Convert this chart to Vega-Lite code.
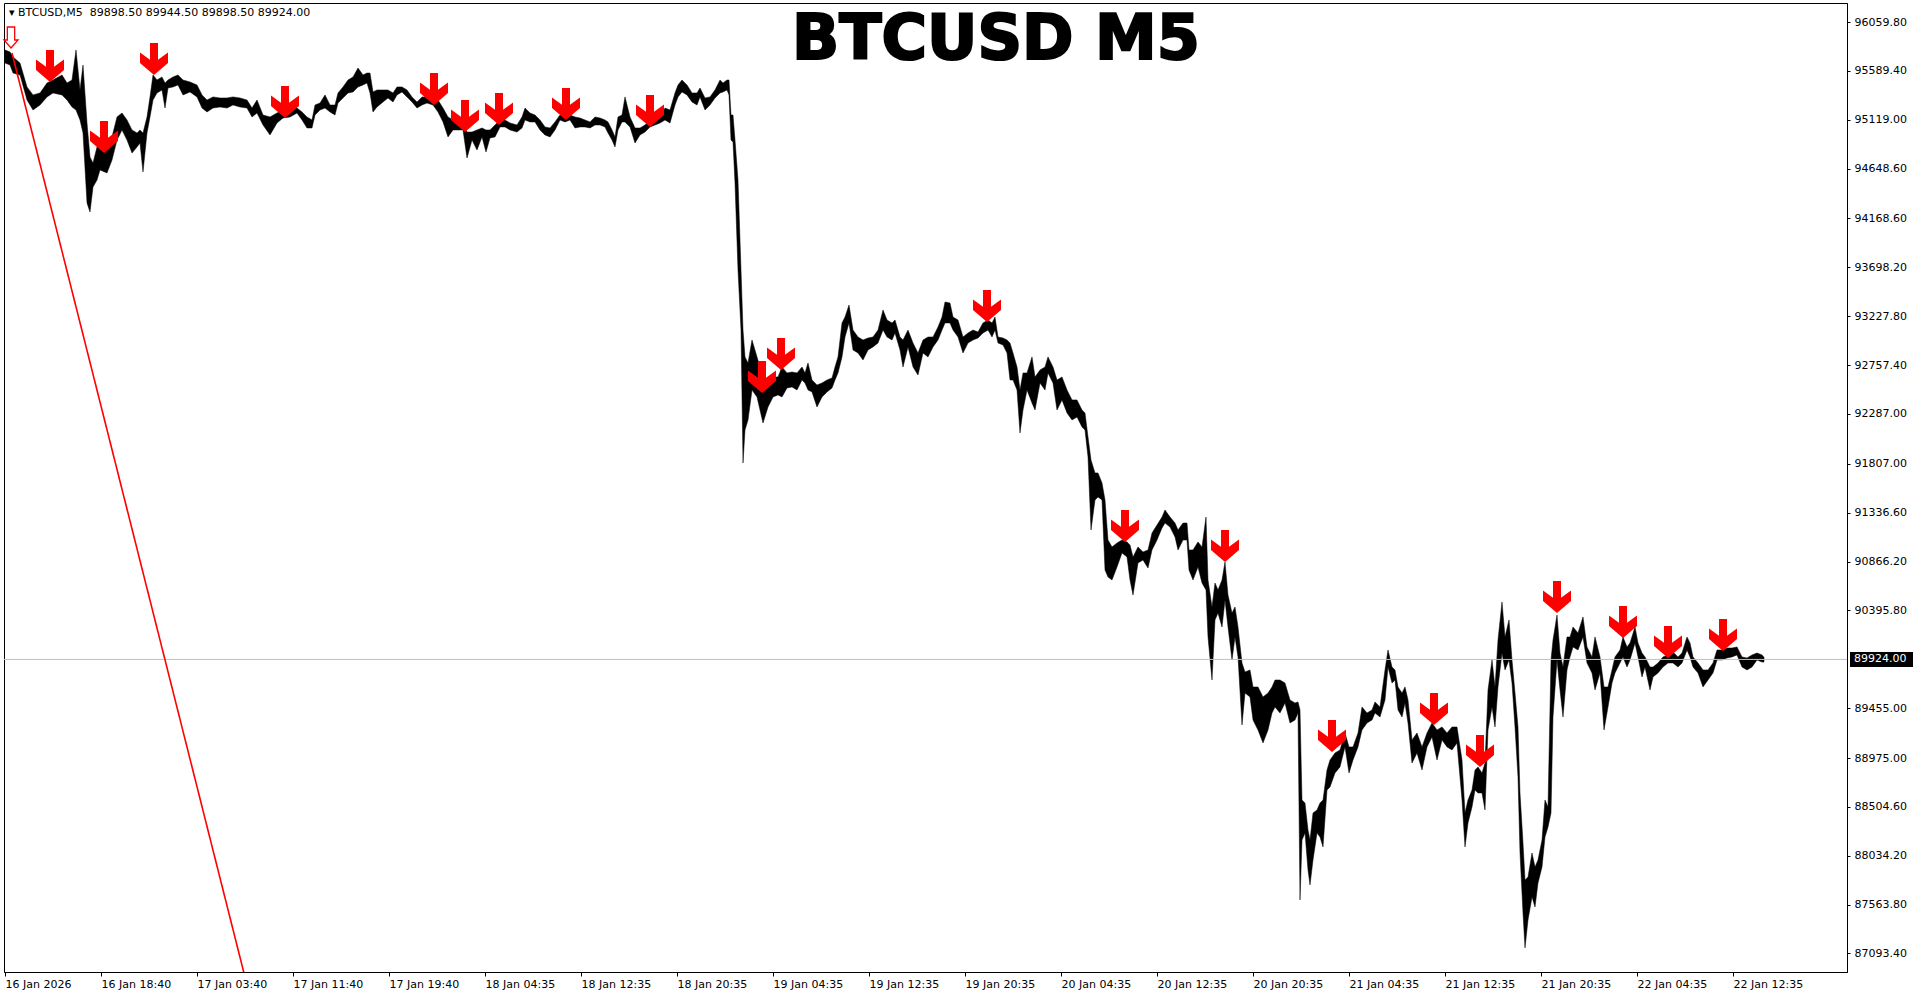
{
  "$schema": "https://vega.github.io/schema/vega-lite/v6.json",
  "width": 1843,
  "height": 969,
  "autosize": {"type": "none"},
  "padding": {"left": 4, "top": 3, "right": 72, "bottom": 24},
  "background": "white",
  "config": {"view": {"stroke": "black", "strokeWidth": 1}, "font": "DejaVu Sans"},
  "resolve": {"axis": {"x": "independent", "y": "independent"}},
  "datasets": {
    "bars": [
      {"i":0,"h":95791,"l":95665},{"i":5,"h":95772,"l":95646},{"i":8,"h":95724,"l":95569},{"i":15,"h":95665,"l":95550},{"i":22,"h":95435,"l":95309},{"i":28,"h":95358,"l":95213},{"i":35,"h":95377,"l":95261},{"i":42,"h":95473,"l":95339},{"i":48,"h":95502,"l":95377},{"i":57,"h":95550,"l":95358},{"i":62,"h":95473,"l":95309},{"i":67,"h":95502,"l":95242},{"i":71,"h":95791,"l":95213},{"i":75,"h":95406,"l":95117},{"i":78,"h":95646,"l":94992},{"i":82,"h":95088,"l":94318},{"i":85,"h":94761,"l":94232},{"i":88,"h":94703,"l":94472},{"i":92,"h":94857,"l":94539},{"i":95,"h":94924,"l":94636},{"i":102,"h":94857,"l":94607},{"i":107,"h":94954,"l":94732},{"i":112,"h":95146,"l":94924},{"i":117,"h":95184,"l":95021},{"i":122,"h":95117,"l":94924},{"i":127,"h":95021,"l":94799},{"i":132,"h":94992,"l":94857},{"i":135,"h":95021,"l":94895},{"i":138,"h":94992,"l":94617},{"i":142,"h":95146,"l":94992},{"i":145,"h":95339,"l":95146},{"i":148,"h":95550,"l":95309},{"i":152,"h":95502,"l":95377},{"i":157,"h":95531,"l":95406},{"i":160,"h":95473,"l":95232},{"i":163,"h":95502,"l":95425},{"i":168,"h":95531,"l":95435},{"i":173,"h":95550,"l":95454},{"i":178,"h":95502,"l":95358},{"i":185,"h":95483,"l":95387},{"i":192,"h":95454,"l":95339},{"i":197,"h":95358,"l":95232},{"i":202,"h":95309,"l":95194},{"i":208,"h":95339,"l":95232},{"i":215,"h":95329,"l":95242},{"i":222,"h":95329,"l":95232},{"i":228,"h":95339,"l":95261},{"i":235,"h":95329,"l":95242},{"i":242,"h":95309,"l":95232},{"i":247,"h":95232,"l":95146},{"i":252,"h":95309,"l":95184},{"i":258,"h":95165,"l":95069},{"i":265,"h":95146,"l":94973},{"i":272,"h":95184,"l":95088},{"i":278,"h":95213,"l":95136},{"i":285,"h":95232,"l":95146},{"i":292,"h":95232,"l":95184},{"i":297,"h":95194,"l":95117},{"i":302,"h":95146,"l":95040},{"i":307,"h":95117,"l":95040},{"i":310,"h":95261,"l":95165},{"i":315,"h":95280,"l":95213},{"i":320,"h":95358,"l":95232},{"i":325,"h":95261,"l":95194},{"i":330,"h":95261,"l":95165},{"i":333,"h":95377,"l":95280},{"i":338,"h":95435,"l":95329},{"i":343,"h":95502,"l":95377},{"i":348,"h":95531,"l":95387},{"i":353,"h":95617,"l":95435},{"i":358,"h":95550,"l":95454},{"i":362,"h":95569,"l":95473},{"i":365,"h":95569,"l":95377},{"i":368,"h":95387,"l":95194},{"i":372,"h":95406,"l":95242},
      {"i":378,"h":95406,"l":95290},{"i":383,"h":95406,"l":95329},{"i":388,"h":95377,"l":95290},{"i":392,"h":95435,"l":95358},{"i":397,"h":95435,"l":95387},{"i":402,"h":95406,"l":95339},{"i":407,"h":95339,"l":95290},{"i":412,"h":95290,"l":95232},{"i":417,"h":95339,"l":95261},{"i":422,"h":95339,"l":95280},{"i":428,"h":95329,"l":95261},{"i":433,"h":95309,"l":95194},{"i":438,"h":95232,"l":95098},{"i":443,"h":95146,"l":94954},{"i":448,"h":95117,"l":95021},{"i":453,"h":95088,"l":95021},{"i":458,"h":95069,"l":95021},{"i":462,"h":95001,"l":94751},{"i":467,"h":95001,"l":94924},{"i":472,"h":95021,"l":94828},{"i":477,"h":95040,"l":94954},{"i":481,"h":95021,"l":94809},{"i":485,"h":95021,"l":94944},{"i":490,"h":95069,"l":94954},{"i":495,"h":95117,"l":95050},{"i":500,"h":95117,"l":95050},{"i":505,"h":95088,"l":95021},{"i":512,"h":95069,"l":95001},{"i":517,"h":95146,"l":95040},{"i":520,"h":95232,"l":95117},{"i":525,"h":95184,"l":95098},{"i":530,"h":95165,"l":95098},{"i":535,"h":95117,"l":95021},{"i":540,"h":95050,"l":94973},{"i":545,"h":95040,"l":94954},{"i":550,"h":95098,"l":95021},{"i":555,"h":95165,"l":95117},{"i":560,"h":95146,"l":95098},{"i":565,"h":95165,"l":95117},{"i":570,"h":95146,"l":95040},{"i":575,"h":95136,"l":95050},{"i":580,"h":95117,"l":95050},{"i":585,"h":95098,"l":95040},{"i":590,"h":95146,"l":95069},{"i":595,"h":95136,"l":95069},{"i":600,"h":95117,"l":95050},{"i":603,"h":95098,"l":94992},{"i":607,"h":95021,"l":94924},{"i":610,"h":94954,"l":94857},{"i":613,"h":95146,"l":95021},{"i":617,"h":95165,"l":95098},{"i":620,"h":95339,"l":95098},{"i":625,"h":95146,"l":95050},{"i":630,"h":95040,"l":94895},{"i":635,"h":95040,"l":94973},{"i":640,"h":95069,"l":95001},{"i":645,"h":95117,"l":95050},{"i":650,"h":95136,"l":95069},{"i":655,"h":95146,"l":95088},{"i":660,"h":95232,"l":95117},{"i":665,"h":95213,"l":95088},{"i":670,"h":95377,"l":95261},{"i":673,"h":95454,"l":95339},{"i":677,"h":95502,"l":95387},{"i":682,"h":95454,"l":95358},{"i":687,"h":95377,"l":95290},{"i":692,"h":95377,"l":95261},{"i":695,"h":95425,"l":95339},{"i":700,"h":95329,"l":95213},{"i":705,"h":95339,"l":95261},{"i":710,"h":95406,"l":95329},{"i":715,"h":95502,"l":95377},{"i":718,"h":95473,"l":95387},{"i":722,"h":95502,"l":95406},{"i":724,"h":95502,"l":95358},{"i":726,"h":95165,"l":94924},{"i":728,"h":95165,"l":94905},{"i":730,"h":94924,"l":94511},{"i":733,"h":94539,"l":93673},{"i":736,"h":93673,"l":93095},{"i":738,"h":93095,"l":91815},
      {"i":740,"h":92836,"l":92133},{"i":743,"h":92778,"l":92229},{"i":747,"h":92999,"l":92518},{"i":752,"h":92836,"l":92451},{"i":755,"h":92739,"l":92325},{"i":758,"h":92614,"l":92200},{"i":763,"h":92585,"l":92354},{"i":768,"h":92643,"l":92451},{"i":773,"h":92643,"l":92470},{"i":777,"h":92739,"l":92451},{"i":782,"h":92682,"l":92537},{"i":787,"h":92691,"l":92547},{"i":792,"h":92682,"l":92518},{"i":797,"h":92739,"l":92614},{"i":800,"h":92682,"l":92585},{"i":803,"h":92778,"l":92518},{"i":807,"h":92614,"l":92499},{"i":812,"h":92566,"l":92354},{"i":817,"h":92585,"l":92451},{"i":822,"h":92614,"l":92499},{"i":827,"h":92633,"l":92537},{"i":830,"h":92739,"l":92614},{"i":833,"h":92836,"l":92682},{"i":837,"h":93163,"l":92836},{"i":840,"h":93220,"l":93028},{"i":844,"h":93336,"l":93163},{"i":848,"h":93095,"l":92903},{"i":853,"h":93028,"l":92874},{"i":858,"h":92999,"l":92807},{"i":863,"h":93018,"l":92903},{"i":868,"h":93028,"l":92932},{"i":873,"h":93095,"l":92970},{"i":878,"h":93288,"l":93095},{"i":882,"h":93192,"l":93028},{"i":887,"h":93163,"l":92999},{"i":890,"h":93192,"l":93066},{"i":895,"h":93028,"l":92903},{"i":898,"h":92999,"l":92739},{"i":903,"h":93095,"l":92932},{"i":908,"h":92970,"l":92739},{"i":913,"h":92874,"l":92662},{"i":918,"h":92999,"l":92874},{"i":923,"h":93028,"l":92836},{"i":928,"h":93028,"l":92932},{"i":933,"h":93124,"l":92999},{"i":937,"h":93220,"l":93095},{"i":940,"h":93365,"l":93163},{"i":945,"h":93355,"l":93163},{"i":948,"h":93220,"l":93095},{"i":953,"h":93192,"l":93028},{"i":958,"h":93028,"l":92874},{"i":963,"h":93066,"l":92970},{"i":968,"h":93095,"l":92999},{"i":973,"h":93076,"l":93018},{"i":978,"h":93163,"l":93066},{"i":983,"h":93192,"l":93095},{"i":987,"h":93163,"l":93028},{"i":990,"h":93220,"l":93095},{"i":993,"h":93028,"l":92970},{"i":998,"h":93018,"l":92951},{"i":1002,"h":92999,"l":92874},{"i":1005,"h":92970,"l":92614},{"i":1008,"h":92874,"l":92614},{"i":1012,"h":92739,"l":92518},{"i":1015,"h":92518,"l":92104},{"i":1018,"h":92682,"l":92325},{"i":1022,"h":92682,"l":92518},{"i":1027,"h":92836,"l":92393},{"i":1030,"h":92643,"l":92325},{"i":1035,"h":92710,"l":92585},{"i":1040,"h":92739,"l":92518},{"i":1043,"h":92836,"l":92682},{"i":1048,"h":92739,"l":92585},{"i":1052,"h":92614,"l":92325},{"i":1057,"h":92643,"l":92422},{"i":1062,"h":92518,"l":92297},{"i":1067,"h":92422,"l":92229},{"i":1072,"h":92422,"l":92258},{"i":1077,"h":92325,"l":92162},{"i":1080,"h":92297,"l":92133},{"i":1083,"h":92065,"l":91873},{"i":1086,"h":91844,"l":91170},{"i":1090,"h":91719,"l":91459},{"i":1093,"h":91719,"l":91488},
      {"i":1097,"h":91623,"l":91459},{"i":1100,"h":91459,"l":90785},{"i":1103,"h":91074,"l":90718},{"i":1107,"h":91007,"l":90689},{"i":1112,"h":91045,"l":90814},{"i":1117,"h":91074,"l":90949},{"i":1122,"h":91055,"l":90910},{"i":1125,"h":91026,"l":90689},{"i":1128,"h":90910,"l":90544},{"i":1133,"h":91007,"l":90853},{"i":1138,"h":90959,"l":90881},{"i":1143,"h":90978,"l":90804},{"i":1147,"h":91141,"l":90978},{"i":1152,"h":91218,"l":91074},{"i":1157,"h":91295,"l":91189},{"i":1160,"h":91363,"l":91237},{"i":1165,"h":91295,"l":91199},{"i":1170,"h":91237,"l":91103},{"i":1173,"h":91170,"l":90978},{"i":1178,"h":91237,"l":91074},{"i":1182,"h":91237,"l":91074},{"i":1184,"h":90978,"l":90785},{"i":1188,"h":90978,"l":90689},{"i":1193,"h":91055,"l":90814},{"i":1197,"h":91007,"l":90660},{"i":1201,"h":91295,"l":90593},{"i":1203,"h":90689,"l":90140},{"i":1207,"h":90429,"l":89726},{"i":1210,"h":90660,"l":90304},{"i":1213,"h":90593,"l":90371},{"i":1217,"h":90689,"l":90236},{"i":1220,"h":90862,"l":90496},{"i":1223,"h":90544,"l":90236},{"i":1227,"h":90371,"l":89919},{"i":1230,"h":90429,"l":90140},{"i":1233,"h":90236,"l":89948},{"i":1237,"h":89890,"l":89293},{"i":1240,"h":89803,"l":89601},{"i":1245,"h":89823,"l":89563},{"i":1248,"h":89659,"l":89341},{"i":1253,"h":89659,"l":89245},{"i":1258,"h":89563,"l":89120},{"i":1263,"h":89601,"l":89245},{"i":1267,"h":89659,"l":89409},{"i":1270,"h":89726,"l":89466},{"i":1275,"h":89726,"l":89409},{"i":1280,"h":89697,"l":89505},{"i":1285,"h":89534,"l":89312},{"i":1290,"h":89505,"l":89341},{"i":1293,"h":89515,"l":89409},{"i":1295,"h":89438,"l":87609},{"i":1297,"h":88571,"l":88186},{"i":1300,"h":88542,"l":88253},{"i":1303,"h":88282,"l":87897},{"i":1305,"h":88186,"l":87753},{"i":1308,"h":88446,"l":87994},{"i":1312,"h":88475,"l":88253},{"i":1315,"h":88542,"l":88215},{"i":1318,"h":88571,"l":88119},{"i":1322,"h":88860,"l":88667},{"i":1325,"h":88956,"l":88696},{"i":1330,"h":89024,"l":88831},{"i":1335,"h":89053,"l":88889},{"i":1340,"h":89216,"l":89082},{"i":1344,"h":89082,"l":88831},{"i":1348,"h":89082,"l":88956},{"i":1353,"h":89216,"l":89082},{"i":1357,"h":89466,"l":89245},{"i":1362,"h":89409,"l":89312},{"i":1367,"h":89438,"l":89341},{"i":1370,"h":89515,"l":89409},{"i":1375,"h":89466,"l":89370},{"i":1380,"h":89823,"l":89534},{"i":1383,"h":90015,"l":89851},{"i":1387,"h":89851,"l":89697},{"i":1390,"h":89823,"l":89726},{"i":1393,"h":89659,"l":89438},{"i":1397,"h":89601,"l":89370},{"i":1400,"h":89659,"l":89505},{"i":1403,"h":89534,"l":89312},{"i":1407,"h":89149,"l":88927},{"i":1412,"h":89216,"l":89024},{"i":1417,"h":89082,"l":88860},{"i":1422,"h":89216,"l":89082},{"i":1427,"h":89312,"l":89178},{"i":1432,"h":89245,"l":88956},{"i":1437,"h":89274,"l":89149},{"i":1442,"h":89216,"l":89082},{"i":1447,"h":89274,"l":89053},{"i":1452,"h":89274,"l":89120},
      {"i":1457,"h":88956,"l":88571},{"i":1460,"h":88446,"l":88119},{"i":1463,"h":88571,"l":88350},{"i":1467,"h":88667,"l":88504},{"i":1470,"h":88860,"l":88667},{"i":1473,"h":88889,"l":88639},{"i":1477,"h":88831,"l":88639},{"i":1480,"h":88927,"l":88475},{"i":1483,"h":89630,"l":89245},{"i":1487,"h":89919,"l":89466},{"i":1490,"h":89659,"l":89274},{"i":1493,"h":90111,"l":89659},{"i":1497,"h":90477,"l":89986},{"i":1500,"h":90140,"l":89823},{"i":1504,"h":90304,"l":89919},{"i":1507,"h":89919,"l":89697},{"i":1510,"h":89601,"l":89274},{"i":1513,"h":89274,"l":88793},{"i":1515,"h":88639,"l":88061},{"i":1518,"h":88157,"l":87483},{"i":1520,"h":87801,"l":87147},{"i":1523,"h":87830,"l":87416},{"i":1527,"h":88061,"l":87638},{"i":1530,"h":87926,"l":87541},{"i":1533,"h":87994,"l":87772},{"i":1537,"h":88186,"l":87926},{"i":1540,"h":88571,"l":88215},{"i":1543,"h":88504,"l":88311},{"i":1546,"h":89919,"l":88446},{"i":1548,"h":90111,"l":89370},{"i":1552,"h":90352,"l":89919},{"i":1555,"h":89986,"l":89630},{"i":1558,"h":89851,"l":89370},{"i":1562,"h":90140,"l":89823},{"i":1565,"h":90140,"l":89948},{"i":1568,"h":90236,"l":90044},{"i":1573,"h":90179,"l":90015},{"i":1578,"h":90333,"l":90140},{"i":1582,"h":90044,"l":89890},{"i":1587,"h":89948,"l":89794},{"i":1590,"h":90140,"l":89630},{"i":1595,"h":89948,"l":89794},{"i":1599,"h":89659,"l":89245},{"i":1603,"h":89659,"l":89466},{"i":1607,"h":89823,"l":89697},{"i":1610,"h":89948,"l":89794},{"i":1615,"h":90015,"l":89890},{"i":1618,"h":90140,"l":89948},{"i":1622,"h":90044,"l":89851},{"i":1625,"h":90083,"l":89919},{"i":1630,"h":90236,"l":90083},{"i":1633,"h":90083,"l":89948},{"i":1637,"h":89986,"l":89755},{"i":1640,"h":89948,"l":89851},{"i":1645,"h":89851,"l":89630},{"i":1648,"h":89851,"l":89755},{"i":1653,"h":89890,"l":89794},{"i":1658,"h":89948,"l":89851},{"i":1663,"h":89967,"l":89890},{"i":1668,"h":89996,"l":89890},{"i":1673,"h":89948,"l":89851},{"i":1677,"h":89986,"l":89890},{"i":1682,"h":90140,"l":90015},{"i":1685,"h":90083,"l":89948},{"i":1688,"h":89948,"l":89851},{"i":1693,"h":89890,"l":89794},{"i":1698,"h":89823,"l":89659},{"i":1703,"h":89823,"l":89726},{"i":1708,"h":89890,"l":89794},{"i":1712,"h":90015,"l":89919},{"i":1717,"h":90015,"l":89919},{"i":1722,"h":90034,"l":89938},{"i":1727,"h":90034,"l":89948},{"i":1732,"h":90044,"l":89967},{"i":1737,"h":89948,"l":89851},{"i":1742,"h":89938,"l":89823},{"i":1747,"h":89967,"l":89851},{"i":1752,"h":89986,"l":89919},{"i":1757,"h":89967,"l":89899},{"i":1759,"h":89944.5,"l":89898.5}
    ],
    "arrows": [
      {"i":45,"p":95483},{"i":99,"p":94799},{"i":149,"p":95550},{"i":280,"p":95136},{"i":429,"p":95261},{"i":460,"p":95001},{"i":494,"p":95069},{"i":561,"p":95117},{"i":645,"p":95050},{"i":757,"p":92489},{"i":776,"p":92710},{"i":982,"p":93172},{"i":1120,"p":91055},{"i":1220,"p":90862},{"i":1327,"p":89033},{"i":1429,"p":89293},{"i":1475,"p":88889},{"i":1552,"p":90371},{"i":1618,"p":90131},{"i":1663,"p":89938},{"i":1718,"p":90005}
    ],
    "trend": [{"i":7,"p":95762},{"i":300,"p":84575}],
    "start": [{"i":6,"p":95810}],
    "header": [{"t":"▾ BTCUSD,M5\u00a0 89898.50 89944.50 89898.50 89924.00"}],
    "title": [{"t":"BTCUSD M5"}],
    "last": [{"t":"89924.00","x1":1845,"x2":1908,"y1":89996,"y2":89851,"p":89924,"xa":1842}]
  },
  "layer": [
    {
      "data": {"name": "bars"},
      "mark": {"type": "area", "color": "black", "stroke": "black", "strokeWidth": 0.5, "opacity": 1},
      "encoding": {
        "x": {"field": "i", "type": "quantitative", "scale": {"domain": [-1, 1842], "nice": false, "zero": false},
          "axis": {"orient": "bottom", "values": [0,96,192,288,384,480,576,672,768,864,960,1056,1152,1248,1344,1440,1536,1632,1728],
            "labelExpr": "['16 Jan 2026','16 Jan 18:40','17 Jan 03:40','17 Jan 11:40','17 Jan 19:40','18 Jan 04:35','18 Jan 12:35','18 Jan 20:35','19 Jan 04:35','19 Jan 12:35','19 Jan 20:35','20 Jan 04:35','20 Jan 12:35','20 Jan 20:35','21 Jan 04:35','21 Jan 12:35','21 Jan 20:35','22 Jan 04:35','22 Jan 12:35'][round(datum.value/96)]",
            "title": null, "grid": false, "domain": true, "ticks": true, "labels": true, "domainColor": "black", "tickColor": "black", "tickSize": 4, "labelAlign": "left", "labelBaseline": "top", "labelPadding": 2, "labelFont": "DejaVu Sans", "labelFontSize": 11, "labelColor": "black", "labelOverlap": false, "labelFlush": false, "labelBound": false}},
        "y": {"field": "l", "type": "quantitative", "scale": {"domain": [86915, 96243], "nice": false, "zero": false},
          "axis": {"orient": "right", "values": [96059.8,95589.4,95119.0,94648.6,94168.6,93698.2,93227.8,92757.4,92287.0,91807.0,91336.6,90866.2,90395.8,89455.0,88975.0,88504.6,88034.2,87563.8,87093.4],
            "format": ".2f", "title": null, "grid": false, "domain": true, "ticks": true, "labels": true, "domainColor": "black", "tickColor": "black", "tickSize": 3, "labelPadding": 4, "labelFont": "DejaVu Sans", "labelFontSize": 11, "labelColor": "black", "labelOverlap": false, "labelBound": false, "labelBaseline": "middle"}},
        "y2": {"field": "h"}
      }
    },
    {
      "data": {"values": [{}]},
      "mark": {"type": "rule", "color": "#c0c0c0", "strokeWidth": 1},
      "encoding": {
        "y": {"datum": 89924, "type": "quantitative", "axis": null}
      }
    },
    {
      "data": {"name": "trend"},
      "mark": {"type": "line", "color": "#ff0000", "strokeWidth": 1.6, "clip": true},
      "encoding": {
        "x": {"field": "i", "type": "quantitative", "axis": null},
        "y": {"field": "p", "type": "quantitative", "axis": null}
      }
    },
    {
      "data": {"name": "arrows"},
      "mark": {"type": "point", "shape": "M-0.25,-2 L0.25,-2 L0.25,-0.95 L0.875,-1.4 L0.875,-0.75 L0,0 L-0.875,-0.75 L-0.875,-1.4 L-0.25,-0.95 Z", "size": 1024, "filled": true, "color": "#ff0000", "opacity": 1, "strokeWidth": 0},
      "encoding": {
        "x": {"field": "i", "type": "quantitative", "axis": null},
        "y": {"field": "p", "type": "quantitative", "axis": null}
      }
    },
    {
      "data": {"name": "start"},
      "mark": {"type": "point", "shape": "M-0.35,-2 L0.35,-2 L0.35,-0.76 L0.67,-0.76 L0,0 L-0.67,-0.76 L-0.35,-0.76 Z", "size": 441, "filled": true, "fill": "white", "stroke": "#ff0000", "strokeWidth": 1.3, "opacity": 1},
      "encoding": {
        "x": {"field": "i", "type": "quantitative", "axis": null},
        "y": {"field": "p", "type": "quantitative", "axis": null}
      }
    },
    {
      "data": {"name": "header"},
      "mark": {"type": "text", "align": "left", "baseline": "top", "dx": 5, "dy": 4, "font": "DejaVu Sans", "fontSize": 11, "color": "black"},
      "encoding": {
        "x": {"datum": -1, "type": "quantitative", "axis": null},
        "y": {"datum": 96243, "type": "quantitative", "axis": null},
        "text": {"field": "t"}
      }
    },
    {
      "data": {"name": "title"},
      "mark": {"type": "text", "align": "left", "baseline": "alphabetic", "dy": 56, "font": "DejaVu Sans", "fontSize": 62, "fontWeight": "bold", "color": "black", "stroke": "black", "strokeWidth": 2.2},
      "encoding": {
        "x": {"datum": 787, "type": "quantitative", "axis": null},
        "y": {"datum": 96243, "type": "quantitative", "axis": null},
        "text": {"field": "t"}
      }
    },
    {
      "data": {"name": "last"},
      "mark": {"type": "rect", "color": "black"},
      "encoding": {
        "x": {"field": "x1", "type": "quantitative", "axis": null},
        "x2": {"field": "x2"},
        "y": {"field": "y1", "type": "quantitative", "axis": null},
        "y2": {"field": "y2"}
      }
    },
    {
      "data": {"name": "last"},
      "mark": {"type": "text", "align": "left", "baseline": "middle", "dx": 7, "font": "DejaVu Sans", "fontSize": 11, "color": "white"},
      "encoding": {
        "x": {"field": "xa", "type": "quantitative", "axis": null},
        "y": {"field": "p", "type": "quantitative", "axis": null},
        "text": {"field": "t"}
      }
    }
  ]
}
